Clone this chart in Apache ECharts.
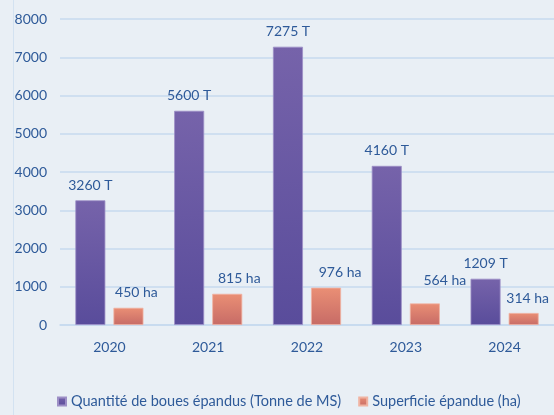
<!DOCTYPE html>
<html>
<head>
<meta charset="utf-8">
<script src="https://cdn.jsdelivr.net/npm/echarts@6/dist/echarts.min.js"></script>
<style>
  html, body { margin: 0; padding: 0; background: #e9eff5; }
  #chart { width: 554px; height: 415px; }
</style>
</head>
<body>
<div id="chart"></div>
<script>
const years = ["2020", "2021", "2022", "2023", "2024"]
const boues = [3260, 5600, 7275, 4160, 1209]
const superficie = [450, 815, 976, 564, 314]
// label nudges for the orange bars, as placed in the original
const superficieLabelShift = [[8, 0], [12, 0], [14, 0], [20, -8], [4, 0]]

const textColor = "#2e5a99"
const gridColor = "#c6daee"

const chart = echarts.init(document.getElementById("chart"))

const option = {
    backgroundColor: "#e9eff5",
    textStyle: { fontFamily: "Lato" },
    graphic: [
        {
            type: "line",
            shape: { x1: 13.5, y1: 0, x2: 13.5, y2: 415 },
            style: { stroke: "#d3e2f1", lineWidth: 1 },
        },
    ],
    legend: {
        data: ["Quantité de boues épandus (Tonne de MS)", "Superficie épandue (ha)"],
        left: 52,
        bottom: 1,
        icon: "rect",
        itemWidth: 8,
        itemHeight: 8,
        itemGap: 17,
        textStyle: { color: textColor, fontSize: 14.5, fontFamily: "Lato" },
    },
    grid: {
        left: 60,
        right: -1,
        top: 19,
        bottom: 90,
    },
    xAxis: {
        type: "category",
        data: years,
        axisLine: { lineStyle: { color: gridColor, width: 1.5 } },
        axisTick: { show: false },
        axisLabel: { color: textColor, fontSize: 14, margin: 15 },
    },
    yAxis: {
        type: "value",
        min: 0,
        max: 8000,
        interval: 1000,
        axisLine: { show: false },
        axisTick: { show: false },
        axisLabel: {
            color: textColor,
            fontSize: 14,
            margin: 13,
            formatter: (v) => String(v),
        },
        splitLine: { lineStyle: { color: gridColor, width: 1.5 } },
    },
    series: [
        {
            name: "Quantité de boues épandus (Tonne de MS)",
            type: "bar",
            data: boues,
            barWidth: 30,
            barGap: "27%",
            itemStyle: {
                color: new echarts.graphic.LinearGradient(0, 0, 0, 1, [
                    { offset: 0, color: "#7663aa" },
                    { offset: 1, color: "#594c9b" },
                ]),
                borderColor: "#9d8fc6",
                borderWidth: 0.8,
            },
            label: {
                show: true,
                position: "top",
                distance: 8,
                color: textColor,
                fontSize: 14,
                formatter: (p) => p.value + " T",
            },
        },
        {
            name: "Superficie épandue (ha)",
            type: "bar",
            data: superficie.map((v, i) => ({
                value: v,
                label: { offset: superficieLabelShift[i] },
            })),
            barWidth: 30,
            itemStyle: {
                color: new echarts.graphic.LinearGradient(0, 0, 0, 1, [
                    { offset: 0, color: "#ea8f75" },
                    { offset: 1, color: "#c76b66" },
                ]),
                borderColor: "#f0b3a2",
                borderWidth: 0.8,
            },
            label: {
                show: true,
                position: "top",
                distance: 8,
                color: textColor,
                fontSize: 14,
                formatter: (p) => p.value + " ha",
            },
        },
    ],
}

chart.setOption(option)
</script>
</body>
</html>
